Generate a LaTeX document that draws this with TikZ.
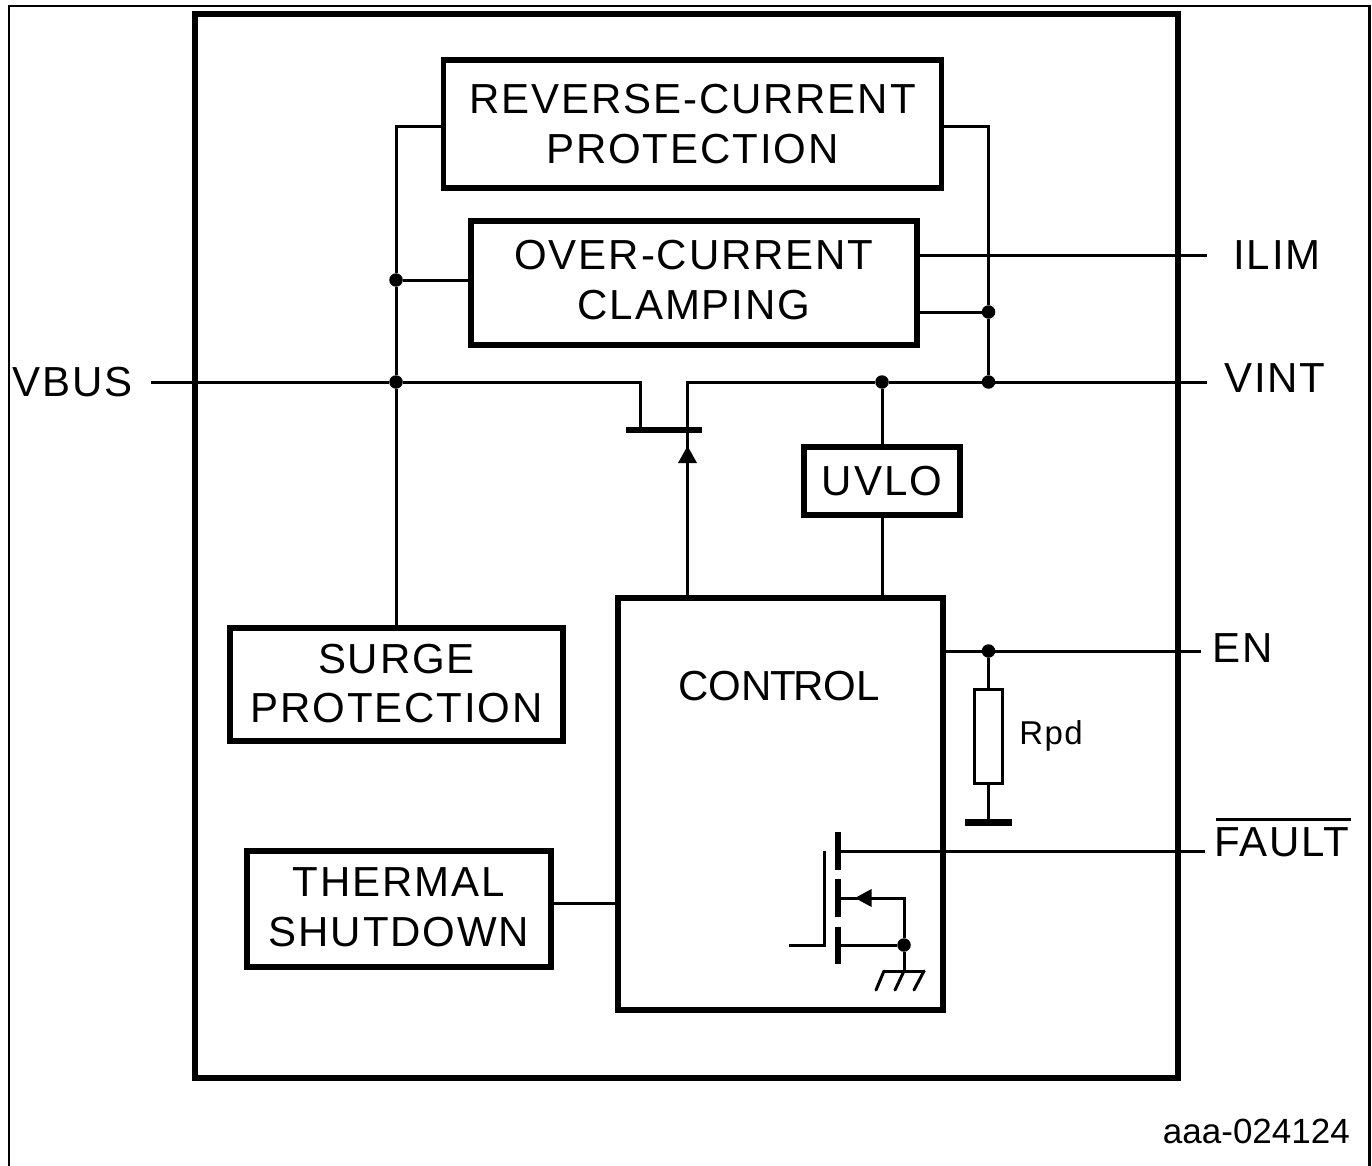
\documentclass[tikz,border=0pt]{standalone}
\usepackage{fontspec}
\setmainfont{Liberation Sans}[LetterSpace=4.5]
\newfontfamily\plainfont{Liberation Sans}
\usetikzlibrary{arrows.meta}
\tikzset{
  x=1pt,y=-1pt,
  block/.style={draw=black,line width=5.5pt,fill=white,inner sep=0pt,align=center,font=\fontsize{42}{49.5}\selectfont},
  wire/.style={draw=black,line width=3pt},
  gate/.style={draw=black,line width=6pt},
  lbl/.style={inner sep=0pt,font=\fontsize{42}{49}\selectfont},
  dotn/.style={circle,fill=black,inner sep=0pt,minimum size=13.5pt},
  tip/.style={fill=black,draw=none},
}
\begin{document}
\begin{tikzpicture}
\useasboundingbox (0,0) rectangle (1372,1166);
\draw[draw=black,line width=2.8pt] (9,1166) -- (9,6) -- (1369.5,6) -- (1369.5,1166);
\node[draw=black,line width=6pt,minimum width=983pt,minimum height=1064pt,inner sep=0pt] (main) at (686.5,546) {};
\node[block,minimum width=498pt,minimum height=128pt] (rev) at (692.5,124) {REVERSE-CURRENT\\PROTECTION};
\node[block,minimum width=446pt,minimum height=124pt] (ocp) at (694,283) {OVER-CURRENT\\CLAMPING\par\vspace{6pt}};
\node[block,minimum width=156pt,minimum height=68pt] (uvlo) at (882,481) {UVLO};
\node[block,minimum width=325pt,minimum height=412pt] (ctrl) at (780.5,804) {};
\node[lbl] (ctrltxt) at (779,686) {\plainfont CON\kern-1pt T\kern-3pt ROL};
\node[block,minimum width=333pt,minimum height=113pt] (surge) at (396.5,684.5) {SURGE\\PROTECTION\par\vspace{2pt}};
\node[block,minimum width=304pt,minimum height=116pt] (therm) at (399,909) {THERMAL\\SHUTDOWN\par\vspace{4pt}};
\node[draw=black,line width=3pt,minimum width=28pt,minimum height=94pt,inner sep=0pt] (rpd) at (988.5,736) {};
\node[inner sep=0pt,font=\fontsize{33}{38}\selectfont] (rpdt) at (1051,736) {Rpd};
% pin labels
\node[lbl,anchor=west] (vbus) at (12,382) {VBUS};
\node[lbl,anchor=west] (ilim) at (1233,255) {ILIM};
\node[lbl,anchor=west] (vint) at (1224,378) {VINT};
\node[lbl,anchor=west] (en) at (1212,648) {EN};
\node[lbl,anchor=west] (fault) at (1214,842) {FAULT};
\coordinate (ovA) at (1216,819.5);
\coordinate (ovB) at (1351,819.5);
\draw[draw=black,line width=3pt] (ovA) -- (ovB);
\node[inner sep=0pt,anchor=east,font=\fontsize{35}{40}\selectfont\plainfont] (code) at (1350,1131) {aaa-024124};
% coordinates
\coordinate (vbusE) at (151,382);
\coordinate (vintE) at (1207,382);
\coordinate (ilimE) at (1207,255);
\coordinate (enE) at (1201,651);
\coordinate (faultE) at (1205,851);
\node[dotn] (d1) at (396,280) {};
\node[dotn] (d2) at (396,382) {};
\node[dotn] (d3) at (882,382) {};
\node[dotn] (d4) at (988.5,382) {};
\node[dotn] (d5) at (988.5,312) {};
\node[dotn] (d6) at (988.5,651) {};
\node[dotn] (d7) at (904,945) {};
\coordinate (gL) at (626,429.5);
\coordinate (gR) at (702,429.5);
\coordinate (sS) at (640,429.5);
\coordinate (sD) at (687.5,429.5);
\coordinate (ctop) at (687.5,598);
\coordinate (atip) at (687.5,446);
\coordinate (gnd1) at (965,822);
\coordinate (gnd2) at (1012,822);
\coordinate (gndc) at (988.5,822);
% wires
\draw[wire] (vbusE) -- (d2) -- (640,382) -- (sS);
\draw[wire] (sD) -- (687.5,382) -- (d3) -- (d4) -- (vintE);
\draw[wire] (ctop) -- (sD);
\draw[gate] (gL) -- (gR);
\fill[tip] (atip) -- (697,463) -- (678,463) -- cycle;
\draw[wire] (rev.west |- 0,127) -- (396,127) -- (d1) -- (d2) -- (surge.north -| d2);
\draw[wire] (d1) -- (ocp.west |- d1);
\draw[wire] (rev.east |- 0,127) -- (988.5,127) -- (d5) -- (d4);
\draw[wire] (ocp.east |- ilimE) -- (ilimE);
\draw[wire] (ocp.east |- d5) -- (d5);
\draw[wire] (d3) -- (uvlo.north);
\draw[wire] (uvlo.south) -- (ctrl.north -| uvlo);
\draw[wire] (ctrl.east |- d6) -- (d6) -- (enE);
\draw[wire] (d6) -- (rpd.north);
\draw[wire] (rpd.south) -- (gndc);
\draw[draw=black,line width=7pt] (gnd1) -- (gnd2);
\draw[wire] (therm.east |- 0,903) -- (ctrl.west |- 0,903);
% internal FET
\coordinate (fs) at (838,851);
\draw[wire] (fs) -- (faultE);
\draw[gate] (838,832) -- (838,869.5);
\draw[gate] (838,879) -- (838,917);
\draw[gate] (838,926.5) -- (838,964);
\draw[wire] (824,851) -- (824,945) -- (789,945);
\draw[wire] (838,898) -- (904,898) -- (d7);
\draw[wire] (838,945) -- (d7);
\fill[tip] (855,898) -- (871.5,889) -- (871.5,907) -- cycle;
\draw[wire] (d7) -- (904,971);
\draw[wire,line cap=round] (884,971) -- (924,971);
\draw[wire,line cap=round] (884,971) -- (876,990);
\draw[wire,line cap=round] (904,971) -- (895,990);
\draw[wire,line cap=round] (924,971) -- (914,990);
\end{tikzpicture}
\end{document}
